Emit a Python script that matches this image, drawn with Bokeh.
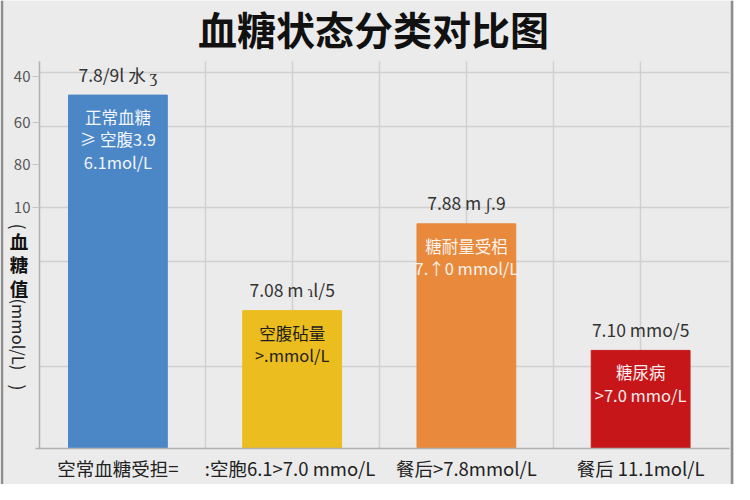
import math
from bokeh.plotting import figure
from bokeh.models import ColumnDataSource, FixedTicker, Label, Span
from bokeh.core.properties import value
from bokeh.embed import file_html
from bokeh.resources import INLINE

# ---------------- data ----------------
title_text = "血糖状态分类对比图"
categories = ["空常血糖受担=", ":空胞6.1>7.0  mmo/L", "餐后>7.8mmol/L", "餐后 11.1mol/L"]
values = [13.15, 5.13, 8.36, 3.65]
top_labels = ["7.8/9l 水 ʒ", "7.08 m ɿl/5", "7.88 m ʃ.9", "7.10 mmo/5"]
inner_labels = [
    ["正常血糖", "≥ 空腹3.9", "6.1mol/L"],
    ["空腹砧量", ">.mmol/L"],
    ["糖耐量受梠", "7.↑0 mmol/L"],
    ["糖尿病", ">7.0 mmo/L"],
]
y_tick_values = [13.86, 12.13, 10.55, 8.96]
y_tick_labels = ["40", "60", "80", "10"]
y_grid_values = [3.05, 6.95, 8.95, 12.0, 14.0]
x_grid_values = [0.5, 1.0, 1.5, 2.0, 2.5, 3.0]
y_title_chars = ["血", "糖", "值"]
y_title_unit = "(mmol/L)"

# ---------------- layout / styles ----------------
bar_colors = ["#4b87c6", "#ebbd1f", "#e8893b", "#c7161a"]
inner_text_colors = ["#f4f6fa", "#1e1e1e", "#fbf4ee", "#fbeeee"]
BG = "#ebebeb"
FONT = "Noto Sans CJK SC"
W, H = 734, 484
# plot area (canvas px) and data extent shown inside it
PL, PR, PT, PB = 39, 729, 61, 448
X0, X1, Y0, Y1 = -0.45, 3.51, 0.0, 14.4
sx = (PR - PL) / (X1 - X0)
sy = (PB - PT) / (Y1 - Y0)
xr = (X0 - PL / sx, X0 + (W - PL) / sx)
yr = (Y0 - (H - PB) / sy, Y0 + PB / sy)


def cx2d(cx):
    return X0 + (cx - PL) / sx


def cy2d(cy):
    return Y0 + (PB - cy) / sy


p = figure(width=W, height=H, x_range=xr, y_range=yr,
           output_backend="svg", toolbar_location=None)
p.min_border = 0
p.background_fill_color = BG
p.border_fill_color = BG
p.outline_line_color = None

# grids
p.xgrid.ticker = FixedTicker(ticks=x_grid_values)
p.ygrid.ticker = FixedTicker(ticks=y_grid_values)
p.xgrid.cross_bounds = (Y0, Y1)
p.ygrid.cross_bounds = (X0, X1)
for g in (p.xgrid, p.ygrid):
    g.grid_line_color = "#d0d0d0"
    g.grid_line_width = 1.5

# axes (fixed at the plot-area edges)
xs = list(range(len(categories)))
xa, ya = p.xaxis[0], p.yaxis[0]
xa.fixed_location = Y0
xa.bounds = (cx2d(35), X1)
xa.ticker = FixedTicker(ticks=xs)
xa.major_label_overrides = {i: c for i, c in zip(xs, categories)}
xa.major_label_text_font = FONT
xa.major_label_text_font_size = "18.5px"
xa.major_label_text_color = "#222222"
xa.major_label_standoff = 6
xa.major_tick_out = 0
xa.major_tick_in = 0
xa.major_tick_line_color = None
xa.minor_tick_line_color = None
xa.axis_line_color = "#b0b0b0"
xa.axis_line_width = 1.5

ya.fixed_location = X0
ya.bounds = (Y0, Y1)
ya.ticker = FixedTicker(ticks=y_tick_values)
ya.major_label_overrides = {v: l for v, l in zip(y_tick_values, y_tick_labels)}
ya.major_label_text_font = FONT
ya.major_label_text_font_size = "15px"
ya.major_label_text_color = "#555555"
ya.major_label_standoff = 2
ya.major_tick_out = 7
ya.major_tick_in = 0
ya.major_tick_line_color = "#c4c4c4"
ya.minor_tick_line_color = None
ya.axis_line_color = "#b0b0b0"
ya.axis_line_width = 1.5

# outer frame lines
for cx in (1.5, W - 2.5):
    p.add_layout(Span(location=cx2d(cx), dimension="height", line_color="#8e8e8e", line_width=2.5))

# bars
src = ColumnDataSource(dict(x=xs, top=values, color=bar_colors, lab=top_labels))
p.vbar(x="x", top="top", width=0.567, color="color", source=src)

# value labels above bars
p.text(x="x", y="top", text="lab", source=src, text_align="center", text_baseline="middle",
       y_offset=-21, text_font=value(FONT), text_font_size="17.5px", text_color="#333333")

# inner labels
rows = dict(x=[], y=[], t=[], off=[], c=[])
for i, lines in enumerate(inner_labels):
    for k, t in enumerate(lines):
        rows["x"].append(xs[i])
        rows["y"].append(values[i])
        rows["t"].append(t)
        rows["off"].append(22 + 22.3 * k)
        rows["c"].append(inner_text_colors[i])
isrc = ColumnDataSource(rows)
p.text(x="x", y="y", text="t", y_offset="off", text_color="c", source=isrc,
       text_align="center", text_baseline="middle",
       text_font=value(FONT), text_font_size="16.5px")


def clabel(cx, cy, text, **kw):
    return Label(x=cx2d(cx), y=cy2d(cy), text=text, text_font=FONT, **kw)


# title
p.add_layout(clabel(373, 27, title_text, text_align="center", text_baseline="middle",
                    text_font_size="39px", text_font_style="bold", text_color="#111111"))

# y axis title (stacked upright CJK + rotated unit)
yx = 18.6
p.add_layout(clabel(yx, 226, "(", angle=-math.pi / 2, text_align="center", text_baseline="middle",
                    text_font_size="18px", text_color="#222222"))
for k, ch in enumerate(y_title_chars):
    p.add_layout(clabel(yx, 240 + 23.7 * k, ch, text_align="center", text_baseline="middle",
                        text_font_size="18.5px", text_font_style="bold", text_color="#111111"))
p.add_layout(clabel(yx, 298, y_title_unit, angle=-math.pi / 2, text_align="left",
                    text_baseline="middle", text_font_size="16.5px", text_color="#222222"))
p.add_layout(clabel(yx, 387, ")", angle=-math.pi / 2, text_align="center", text_baseline="middle",
                    text_font_size="18px", text_color="#222222"))

open("out.html", "w").write(file_html(p, INLINE))
